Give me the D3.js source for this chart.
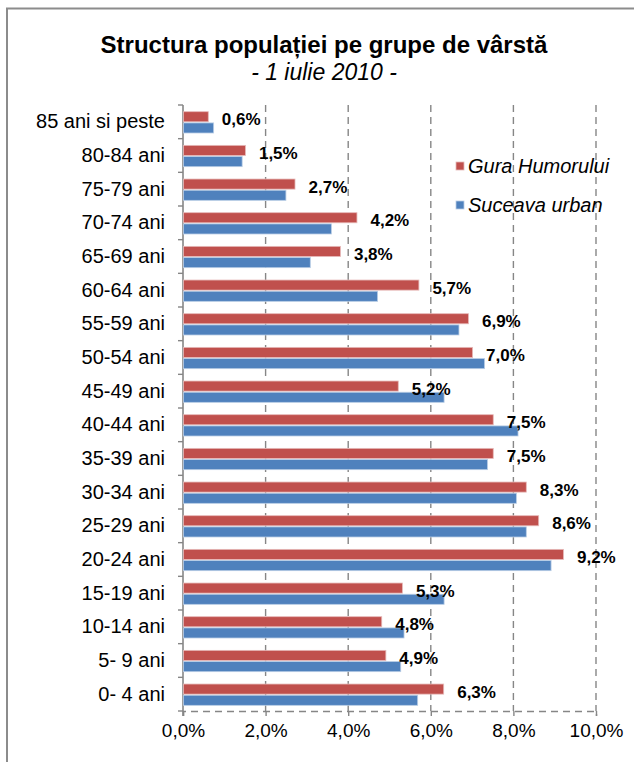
<!DOCTYPE html>
<html>
<head>
<meta charset="utf-8">
<script src="https://cdn.jsdelivr.net/npm/d3@7"></script>
<style>
  body { margin: 0; background: #fff; }
  svg { display: block; font-family: Arial, "Liberation Sans", sans-serif; }
</style>
</head>
<body>
<div id="chart"></div>
<script>
// age groups, top to bottom as drawn
const categories = ["85 ani si peste", "80-84 ani", "75-79 ani", "70-74 ani", "65-69 ani",
  "60-64 ani", "55-59 ani", "50-54 ani", "45-49 ani", "40-44 ani", "35-39 ani",
  "30-34 ani", "25-29 ani", "20-24 ani", "15-19 ani", "10-14 ani", "5- 9 ani", "0- 4 ani"];
const seriesNames = ["Gura Humorului", "Suceava urban"];
const guraHumorului = [0.6, 1.5, 2.7, 4.2, 3.8, 5.7, 6.9, 7.0, 5.2, 7.5, 7.5, 8.3, 8.6, 9.2, 5.3, 4.8, 4.9, 6.3];
const sucevaUrban = [0.73, 1.42, 2.48, 3.58, 3.07, 4.7, 6.67, 7.29, 6.31, 8.1, 7.36, 8.06, 8.3, 8.9, 6.31, 5.34, 5.26, 5.67];
const xTicks = [0, 2, 4, 6, 8, 10];

const width = 634, height = 762;
const colors = { "Gura Humorului": "#C0504D", "Suceava urban": "#4F81BD" };
const edges = { "Gura Humorului": "#E6B9B8", "Suceava urban": "#B9CDE5" };

const svg = d3.select("#chart").append("svg")
  .attr("width", width).attr("height", height);

// chart frame
svg.append("rect")
  .attr("x", 7).attr("y", 8.5)
  .attr("width", 700).attr("height", 800)
  .attr("fill", "none").attr("stroke", "#8c8c8c").attr("stroke-width", 2);

// title
svg.append("text").attr("x", 324).attr("y", 53)
  .attr("text-anchor", "middle").style("font-size", "24px").style("font-weight", "bold")
  .text("Structura populației pe grupe de vârstă");
svg.append("text").attr("x", 324).attr("y", 80)
  .attr("text-anchor", "middle").style("font-size", "23px").style("font-style", "italic")
  .text("- 1 iulie 2010 -");

const x = d3.scaleLinear().domain([0, 10]).range([183, 596]);
const y = d3.scaleBand().domain(categories).range([105, 711]);
const ySub = d3.scaleBand().domain(seriesNames).range([6.7, 28]).paddingInner(0.1);

// gridlines
svg.append("g").selectAll("line")
  .data(xTicks.slice(1))
  .join("line")
  .attr("x1", d => x(d)).attr("x2", d => x(d))
  .attr("y1", 105).attr("y2", 711)
  .attr("stroke", "#868686").attr("stroke-width", 1.4)
  .attr("stroke-dasharray", "7,5");

// x axis
const xAxis = svg.append("g")
  .attr("transform", "translate(0,711)")
  .call(d3.axisBottom(x).tickValues(xTicks).tickSize(5).tickPadding(8)
    .tickFormat(d => d3.format(".1f")(d).replace(".", ",") + "%"));
xAxis.select(".domain").attr("stroke", "#868686").attr("stroke-width", 1.4)
  .attr("stroke-dasharray", "7,5");
xAxis.selectAll(".tick line").attr("stroke", "#868686").attr("stroke-width", 1.4);
xAxis.selectAll("text").style("font-size", "19px").attr("fill", "#000").attr("dy", "0.71em");

// y axis
const yAxis = svg.append("g")
  .attr("transform", "translate(183,0)")
  .call(d3.axisLeft(y).tickSize(0).tickPadding(18));
yAxis.select(".domain").remove();
yAxis.selectAll("text").style("font-size", "20px").attr("fill", "#000");
svg.append("line")
  .attr("x1", 183).attr("x2", 183).attr("y1", 105).attr("y2", 716)
  .attr("stroke", "#868686").attr("stroke-width", 1.6);
svg.append("g").selectAll("line")
  .data(d3.range(categories.length + 1))
  .join("line")
  .attr("x1", 178).attr("x2", 183)
  .attr("y1", i => 105 + i * y.step()).attr("y2", i => 105 + i * y.step())
  .attr("stroke", "#868686").attr("stroke-width", 1.4);

// bars
const rows = categories.map((c, i) => ({ cat: c, values: [
  { name: seriesNames[0], v: guraHumorului[i] },
  { name: seriesNames[1], v: sucevaUrban[i] }
] }));

const groups = svg.append("g").selectAll("g")
  .data(rows)
  .join("g")
  .attr("transform", d => `translate(0,${y(d.cat)})`);

groups.selectAll("rect")
  .data(d => d.values)
  .join("rect")
  .attr("x", x(0) + 0.5)
  .attr("y", d => ySub(d.name))
  .attr("width", d => x(d.v) - x(0))
  .attr("height", ySub.bandwidth())
  .attr("fill", d => colors[d.name])
  .attr("stroke", d => edges[d.name])
  .attr("stroke-width", 0.8);

// data labels (Gura Humorului)
groups.append("text")
  .attr("x", d => x(d.values[0].v) + 14)
  .attr("y", y.bandwidth() / 2 - 2)
  .attr("dominant-baseline", "central")
  .style("font-size", "17px").style("font-weight", "bold")
  .text(d => d3.format(".1f")(d.values[0].v).replace(".", ",") + "%");

// legend
const legend = svg.append("g").selectAll("g")
  .data(seriesNames)
  .join("g")
  .attr("transform", (d, i) => `translate(456,${166 + i * 39})`);
legend.append("rect")
  .attr("x", 0).attr("y", -4).attr("width", 8).attr("height", 8)
  .attr("fill", d => colors[d]).attr("stroke", d => edges[d]).attr("stroke-width", 0.8);
legend.append("text")
  .attr("x", 12).attr("y", 0).attr("dominant-baseline", "central")
  .style("font-size", "20px").style("font-style", "italic")
  .text(d => d);
</script>
</body>
</html>
